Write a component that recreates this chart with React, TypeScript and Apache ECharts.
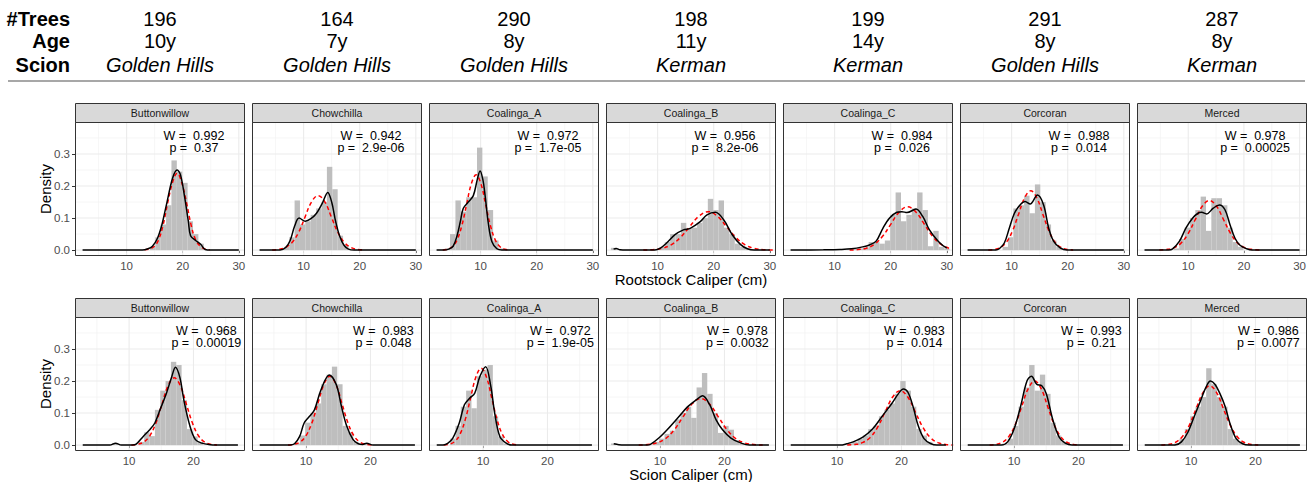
import React, { useEffect, useRef } from 'react';
import * as echarts from 'echarts';

// ---------- header table ----------
const sites = ['Buttonwillow', 'Chowchilla', 'Coalinga_A', 'Coalinga_B', 'Coalinga_C', 'Corcoran', 'Merced'];
const treeCounts = ['196', '164', '290', '198', '199', '291', '287'];
const ages = ['10y', '7y', '8y', '11y', '14y', '8y', '8y'];
const scions = ['Golden Hills', 'Golden Hills', 'Golden Hills', 'Kerman', 'Kerman', 'Golden Hills', 'Kerman'];

// ---------- Shapiro-Wilk labels ----------
const rootW = ['0.992', '0.942', '0.972', '0.956', '0.984', '0.988', '0.978'];
const rootP = ['0.37', '2.9e-06', '1.7e-05', '8.2e-06', '0.026', '0.014', '0.00025'];
const scionW = ['0.968', '0.983', '0.972', '0.978', '0.983', '0.993', '0.986'];
const scionP = ['0.00019', '0.048', '1.9e-05', '0.0032', '0.014', '0.21', '0.0077'];

// ---------- histogram bins (30 bins per row) ----------
const rootBinStart = 2.15;
const rootBinWidth = 0.96;
const scionBinStart = 2.8;
const scionBinWidth = 0.83;

const r1ButtonwillowHist = [0,0,0,0,0,0,0,0,0,0, 0,0,0,0.01,0.04,0.08,0.14,0.28,0.245,0.21, 0.09,0.05,0.02,0,0,0,0,0,0,0];
const r1ChowchillaHist = [0,0,0,0,0,0.01,0.04,0.155,0.08,0.09, 0.11,0.13,0.15,0.26,0.19,0.045,0.015,0,0,0, 0,0,0,0,0,0,0,0,0,0];
const r1CoalingaAHist = [0,0,0.005,0.05,0.155,0.12,0.165,0.165,0.32,0.23, 0.125,0.03,0.005,0,0,0,0,0,0,0, 0,0,0,0,0,0,0,0,0,0];
const r1CoalingaBHist = [0.007,0,0,0,0,0,0,0,0,0.01, 0.025,0.05,0.05,0.085,0.068,0.07,0.085,0.1,0.16,0.125, 0.155,0.07,0.05,0.02,0.01,0.005,0,0,0,0];
const r1CoalingaCHist = [0,0,0,0,0,0,0,0,0,0, 0,0.003,0.003,0.005,0.008,0.025,0.025,0.02,0.03,0.11, 0.18,0.09,0.11,0.13,0.18,0.125,0.012,0.06,0.01,0.005];
const r1CorcoranHist = [0,0,0,0,0,0,0,0.01,0.04,0.13, 0.14,0.17,0.115,0.205,0.15,0.08,0.03,0.01,0,0, 0,0,0,0,0,0,0,0,0,0];
const r1MercedHist = [0,0,0,0,0,0,0.005,0.035,0.07,0.1, 0.125,0.167,0.06,0.162,0.162,0.14,0.07,0.025,0.01,0, 0,0,0,0,0,0,0,0,0,0];

const r2ButtonwillowHist = [0,0,0,0,0,0,0.006,0,0,0, 0,0.01,0.04,0.028,0.11,0.17,0.2,0.26,0.25,0.14, 0.05,0.027,0.01,0,0,0,0,0,0,0];
const r2ChowchillaHist = [0,0,0,0,0,0,0,0.005,0.03,0.07, 0.1,0.13,0.19,0.22,0.245,0.19,0.06,0.04,0.01,0, 0.006,0,0,0,0,0,0,0,0,0];
const r2CoalingaAHist = [0,0,0,0.02,0.06,0.12,0.17,0.115,0.215,0.235, 0.25,0.09,0.027,0.005,0,0,0,0,0,0, 0,0,0,0,0,0,0,0,0,0];
const r2CoalingaBHist = [0.005,0,0,0,0,0,0,0,0.01,0.02, 0.035,0.045,0.08,0.1,0.12,0.085,0.18,0.225,0.16,0.1, 0.038,0.06,0.048,0.015,0.005,0,0,0,0,0];
const r2CoalingaCHist = [0,0,0,0,0,0,0,0,0,0, 0,0.005,0.01,0.02,0.03,0.05,0.06,0.09,0.11,0.13, 0.16,0.2,0.17,0.12,0.05,0.03,0.01,0,0,0];
const r2CorcoranHist = [0,0,0,0,0,0,0,0.005,0.02,0.06, 0.12,0.18,0.25,0.17,0.22,0.16,0.07,0.03,0.01,0, 0,0,0,0,0,0,0,0,0,0];
const r2MercedHist = [0,0,0,0,0,0,0.005,0.02,0.05,0.09, 0.12,0.15,0.24,0.19,0.15,0.12,0.05,0.02,0.01,0, 0,0,0,0,0,0,0,0,0,0];

// ---------- kernel density curves (black) ----------
const r1ButtonwillowDens = [[2.15,0],[12.8,0],[13.8,0.004],[14.6,0.012],[15.5,0.037],[16.3,0.08],[17.2,0.15],[18.2,0.225],[19.0,0.25],[19.6,0.235],[20.3,0.17],[21.0,0.09],[21.4,0.045],[22.3,0.03],[23.2,0.018],[24.0,0.002],[25,0],[30,0]];
const r1ChowchillaDens = [[2.15,0],[5.8,0],[6.8,0.008],[7.6,0.03],[8.4,0.075],[9.2,0.1],[10.3,0.09],[11.3,0.098],[12.3,0.115],[13.3,0.145],[14.3,0.18],[15.0,0.15],[15.7,0.09],[16.4,0.045],[17.2,0.015],[18.0,0.003],[19,0],[30,0]];
const r1CoalingaADens = [[2.15,0],[3.5,0],[4.3,0.003],[5.1,0.012],[5.8,0.045],[6.4,0.09],[6.9,0.13],[7.8,0.15],[8.7,0.17],[9.4,0.22],[9.9,0.247],[10.4,0.22],[10.8,0.17],[11.4,0.08],[12.0,0.027],[12.9,0.004],[13.8,0],[30,0]];
const r1CoalingaBDens = [[2.15,0.003],[2.6,0.005],[3.3,0.001],[4.5,0],[9.5,0],[10.5,0.006],[11.6,0.022],[13.1,0.048],[14.6,0.063],[15.8,0.068],[17.6,0.089],[18.8,0.11],[20.3,0.118],[21.8,0.094],[23.3,0.048],[24.8,0.017],[26.0,0.004],[27.2,0],[30,0]];
const r1CoalingaCDens = [[2.15,0],[8,0.001],[11,0.002],[13,0.004],[15.0,0.01],[16.2,0.016],[17.4,0.028],[18.6,0.068],[19.8,0.1],[21.1,0.118],[22.0,0.12],[22.9,0.117],[24.5,0.128],[25.7,0.105],[26.9,0.063],[28.5,0.027],[30.0,0.006]];
const r1CorcoranDens = [[2.15,0],[7.2,0],[7.8,0.004],[8.7,0.022],[9.6,0.069],[10.5,0.115],[11.5,0.141],[12.4,0.152],[13.3,0.144],[14.6,0.172],[15.7,0.141],[16.6,0.069],[17.5,0.027],[18.7,0.006],[19.9,0],[30,0]];
const r1MercedDens = [[2.15,0],[6.5,0],[7.2,0.004],[8.4,0.027],[9.6,0.069],[10.8,0.1],[11.75,0.115],[12.4,0.118],[13.3,0.113],[14.5,0.131],[15.6,0.141],[16.6,0.126],[17.5,0.079],[18.4,0.037],[19.3,0.015],[20.5,0.004],[21.5,0],[30,0]];

const r2ButtonwillowDens = [[2.8,0],[7.0,0],[7.9,0.006],[8.8,0],[10.5,0],[11.1,0.003],[12.2,0.027],[13.2,0.048],[14.0,0.069],[14.8,0.11],[15.8,0.162],[16.6,0.212],[17.2,0.243],[17.9,0.21],[18.5,0.141],[19.4,0.063],[20.3,0.017],[21.3,0.006],[22.6,0.001],[23.5,0],[26.9,0]];
const r2ChowchillaDens = [[2.8,0],[7.5,0],[8.2,0.004],[9.0,0.027],[9.7,0.069],[10.5,0.089],[11.3,0.11],[12.3,0.172],[13.6,0.219],[14.7,0.188],[15.5,0.12],[16.25,0.063],[17.3,0.017],[18.1,0.004],[18.8,0.002],[19.4,0.006],[20.4,0],[26.9,0]];
const r2CoalingaADens = [[2.8,0],[3.8,0],[4.5,0.005],[5.3,0.022],[6.3,0.069],[7.1,0.126],[7.9,0.146],[8.7,0.162],[9.5,0.214],[10.4,0.245],[11.2,0.183],[11.8,0.1],[12.6,0.027],[13.6,0.006],[14.5,0],[26.9,0]];
const r2CoalingaBDens = [[2.8,0.004],[3.6,0.001],[4.5,0],[8.0,0],[8.5,0.002],[9.8,0.022],[11.1,0.048],[12.7,0.084],[14.3,0.12],[15.6,0.141],[16.6,0.154],[17.7,0.126],[18.7,0.079],[19.7,0.048],[21.0,0.022],[22.6,0.006],[23.9,0],[26.9,0]];
const r2CoalingaCDens = [[2.8,0],[10.5,0],[11.5,0.004],[12.5,0.01],[14.0,0.025],[15.5,0.05],[17.0,0.09],[18.5,0.13],[19.5,0.16],[20.3,0.175],[21.0,0.165],[21.8,0.12],[22.6,0.06],[23.5,0.02],[24.5,0.005],[25.5,0],[26.9,0]];
const r2CorcoranDens = [[2.8,0],[8.0,0],[9.0,0.01],[10.0,0.05],[11.0,0.12],[12.0,0.2],[12.7,0.215],[13.5,0.19],[14.3,0.185],[15.0,0.16],[16.0,0.08],[17.0,0.025],[18.0,0.005],[19.0,0],[26.9,0]];
const r2MercedDens = [[2.8,0],[7.5,0],[8.5,0.01],[9.5,0.04],[10.5,0.09],[11.5,0.14],[12.3,0.18],[13.0,0.2],[13.7,0.19],[14.5,0.16],[15.3,0.12],[16.0,0.07],[17.0,0.02],[18.0,0.004],[19.0,0],[26.9,0]];

// ---------- fitted normal curves (red dashed) ----------
const r1ButtonwillowNorm = [[13.2,0.001],[14.0,0.003],[14.9,0.011],[15.7,0.032],[16.5,0.078],[17.3,0.146],[18.2,0.212],[19.0,0.24],[19.8,0.212],[20.7,0.146],[21.5,0.078],[22.3,0.032],[23.2,0.011],[24.0,0.003],[24.8,0.001]];
const r1ChowchillaNorm = [[4.4,0.0004],[5.55,0.002],[6.7,0.0075],[7.9,0.023],[9.1,0.055],[10.25,0.103],[11.4,0.15],[12.6,0.17],[13.8,0.15],[14.95,0.103],[16.1,0.055],[17.3,0.023],[18.5,0.0075],[19.65,0.002],[20.8,0.0004]];
const r1CoalingaANorm = [[3.25,0.0005],[4.1,0.0026],[4.95,0.0103],[5.8,0.0318],[6.65,0.0763],[7.5,0.1425],[8.35,0.2074],[9.2,0.235],[10.05,0.2074],[10.9,0.1425],[11.75,0.0763],[12.6,0.0318],[13.45,0.0103],[14.3,0.0026],[15.15,0.0005]];
const r1CoalingaBNorm = [[7.45,0.0003],[9.1,0.0013],[10.75,0.0053],[12.4,0.0162],[14.05,0.039],[15.7,0.0728],[17.35,0.1059],[19.0,0.12],[20.65,0.1059],[22.3,0.0728],[23.95,0.039],[25.6,0.0162],[27.25,0.0053],[28.9,0.0013],[30.55,0.0003]];
const r1CoalingaCNorm = [[12.68,0.0003],[14.15,0.0015],[15.63,0.0059],[17.1,0.0183],[18.58,0.0438],[20.05,0.0819],[21.53,0.1191],[23.0,0.135],[24.48,0.1191],[25.95,0.0819],[27.43,0.0438],[28.9,0.0183],[30.38,0.0059]];
const r1CorcoranNorm = [[5.84,0.0004],[6.92,0.0021],[8.0,0.0081],[9.08,0.025],[10.16,0.0601],[11.24,0.1122],[12.32,0.1633],[13.4,0.185],[14.48,0.1633],[15.56,0.1122],[16.64,0.0601],[17.72,0.025],[18.8,0.0081],[19.88,0.0021],[20.96,0.0004]];
const r1MercedNorm = [[4.81,0.0003],[6.09,0.0017],[7.38,0.0068],[8.66,0.021],[9.95,0.0503],[11.23,0.094],[12.52,0.1368],[13.8,0.155],[15.09,0.1368],[16.37,0.094],[17.66,0.0503],[18.94,0.021],[20.23,0.0068],[21.51,0.0017],[22.8,0.0003]];

const r2ButtonwillowNorm = [[10.35,0.0005],[11.3,0.0023],[12.25,0.0092],[13.2,0.0284],[14.15,0.0682],[15.1,0.1274],[16.05,0.1853],[17.0,0.21],[17.95,0.1853],[18.9,0.1274],[19.85,0.0682],[20.8,0.0284],[21.75,0.0092],[22.7,0.0023],[23.65,0.0005]];
const r2ChowchillaNorm = [[7.19,0.0005],[8.12,0.0024],[9.05,0.0094],[9.98,0.0291],[10.91,0.0698],[11.84,0.1304],[12.77,0.1897],[13.7,0.215],[14.63,0.1897],[15.56,0.1304],[16.49,0.0698],[17.42,0.0291],[18.35,0.0094],[19.28,0.0024],[20.21,0.0005]];
const r2CoalingaANorm = [[3.89,0.0005],[4.72,0.0027],[5.55,0.0105],[6.38,0.0325],[7.21,0.0779],[8.04,0.1456],[8.87,0.2118],[9.7,0.24],[10.53,0.2118],[11.36,0.1456],[12.19,0.0779],[13.02,0.0325],[13.85,0.0105],[14.68,0.0027],[15.51,0.0005]];
const r2CoalingaBNorm = [[6.68,0.0003],[8.05,0.0016],[9.43,0.0064],[10.8,0.0196],[12.18,0.0471],[13.55,0.0879],[14.93,0.128],[16.3,0.145],[17.68,0.128],[19.05,0.0879],[20.43,0.0471],[21.8,0.0196],[23.18,0.0064],[24.55,0.0016],[25.93,0.0003]];
const r2CoalingaCNorm = [[11.58,0.0004],[12.75,0.0019],[13.93,0.0075],[15.1,0.023],[16.28,0.0552],[17.45,0.1031],[18.63,0.15],[19.8,0.17],[20.98,0.15],[22.15,0.1031],[23.33,0.0552],[24.5,0.023],[25.68,0.0075],[26.85,0.0019],[28.03,0.0004]];
const r2CorcoranNorm = [[6.2,0.0004],[7.2,0.0022],[8.2,0.0088],[9.2,0.0271],[10.2,0.0649],[11.2,0.1213],[12.2,0.1765],[13.2,0.2],[14.2,0.1765],[15.2,0.1213],[16.2,0.0649],[17.2,0.0271],[18.2,0.0088],[19.2,0.0022],[20.2,0.0004]];
const r2MercedNorm = [[5.38,0.0004],[6.45,0.0021],[7.53,0.0081],[8.6,0.025],[9.68,0.0601],[10.75,0.1122],[11.83,0.1633],[12.9,0.185],[13.98,0.1633],[15.05,0.1122],[16.13,0.0601],[17.2,0.025],[18.28,0.0081],[19.35,0.0021],[20.43,0.0004]];

// ---------- axes ----------
const yTickValues = [0, 0.1, 0.2, 0.3];
const yMinorValues = [0.05, 0.15, 0.25, 0.35];
const rootXTicks = [10, 20, 30];
const scionXTicks = [10, 20];
const xMinorValues = [5, 15, 25];

const FONT = '"Liberation Sans", Arial, Helvetica, sans-serif';
const NBSP = '\u00a0';

const rootHists = [r1ButtonwillowHist, r1ChowchillaHist, r1CoalingaAHist, r1CoalingaBHist, r1CoalingaCHist, r1CorcoranHist, r1MercedHist];
const scionHists = [r2ButtonwillowHist, r2ChowchillaHist, r2CoalingaAHist, r2CoalingaBHist, r2CoalingaCHist, r2CorcoranHist, r2MercedHist];
const rootDens = [r1ButtonwillowDens, r1ChowchillaDens, r1CoalingaADens, r1CoalingaBDens, r1CoalingaCDens, r1CorcoranDens, r1MercedDens];
const scionDens = [r2ButtonwillowDens, r2ChowchillaDens, r2CoalingaADens, r2CoalingaBDens, r2CoalingaCDens, r2CorcoranDens, r2MercedDens];
const rootNorms = [r1ButtonwillowNorm, r1ChowchillaNorm, r1CoalingaANorm, r1CoalingaBNorm, r1CoalingaCNorm, r1CorcoranNorm, r1MercedNorm];
const scionNorms = [r2ButtonwillowNorm, r2ChowchillaNorm, r2CoalingaANorm, r2CoalingaBNorm, r2CoalingaCNorm, r2CorcoranNorm, r2MercedNorm];

function buildOption() {
  const PANEL_LEFT0 = 75;
  const PANEL_STEP = 177;
  const PANEL_W = 170;
  const PLOT_H = 134;
  const STRIP_H = 19;
  const Y_MIN = -0.0185;
  const Y_MAX = 0.4;

  const rows = [
    { hists: rootHists, dens: rootDens, norms: rootNorms, W: rootW, P: rootP, binStart: rootBinStart, binWidth: rootBinWidth,
      xMin: 0.8, xMax: 31.1, ticks: rootXTicks, stripTop: 103, plotTop: 122, title: 'Rootstock Caliper (cm)', titleY: 279.5 },
    { hists: scionHists, dens: scionDens, norms: scionNorms, W: scionW, P: scionP, binStart: scionBinStart, binWidth: scionBinWidth,
      xMin: 1.6, xMax: 28.0, ticks: scionXTicks, stripTop: 298, plotTop: 317, title: 'Scion Caliper (cm)', titleY: 474.5 },
  ];

  const grid: any[] = [];
  const xAxis: any[] = [];
  const yAxis: any[] = [];
  const series: any[] = [];
  const graphic: any[] = [];

  rows.forEach((row, r) => {
    for (let c = 0; c < 7; c++) {
      const idx = r * 7 + c;
      const left = PANEL_LEFT0 + c * PANEL_STEP;
      grid.push({ left, top: row.plotTop, width: PANEL_W, height: PLOT_H, containLabel: false });
      xAxis.push({
        type: 'value', gridIndex: idx, min: row.xMin, max: row.xMax,
        axisLine: { show: false },
        axisTick: { show: true, customValues: row.ticks, length: 3, lineStyle: { color: '#333333', width: 1 } },
        axisLabel: { show: true, customValues: row.ticks, color: '#4d4d4d', fontSize: 11.5, fontFamily: FONT, margin: 4 },
        splitLine: { show: false },
      });
      yAxis.push({
        type: 'value', gridIndex: idx, min: Y_MIN, max: Y_MAX,
        axisLine: { show: false },
        axisTick: { show: c === 0, customValues: yTickValues, length: 3, lineStyle: { color: '#333333', width: 1 } },
        axisLabel: {
          show: c === 0, customValues: yTickValues, color: '#4d4d4d', fontSize: 11.5, fontFamily: FONT, margin: 5,
          formatter: (v: number) => v.toFixed(1),
        },
        splitLine: { show: false },
      });

      // panel grid lines
      const xMajor = row.ticks;
      series.push({
        type: 'custom', xAxisIndex: idx, yAxisIndex: idx, z: 1, silent: true,
        data: [[xMajor[0], 0]],
        renderItem: (params: any, api: any) => {
          const cs = params.coordSys;
          const children: any[] = [];
          const vLine = (v: number, minor: boolean) => {
            const p = api.coord([v, 0]);
            children.push({ type: 'line', shape: { x1: p[0], y1: cs.y, x2: p[0], y2: cs.y + cs.height },
              style: { stroke: minor ? '#f2f2f2' : '#ebebeb', lineWidth: minor ? 0.7 : 1.1 } });
          };
          const hLine = (v: number, minor: boolean) => {
            const p = api.coord([xMajor[0], v]);
            children.push({ type: 'line', shape: { x1: cs.x, y1: p[1], x2: cs.x + cs.width, y2: p[1] },
              style: { stroke: minor ? '#f2f2f2' : '#ebebeb', lineWidth: minor ? 0.7 : 1.1 } });
          };
          xMinorValues.forEach((v) => vLine(v, true));
          yMinorValues.forEach((v) => hLine(v, true));
          xMajor.forEach((v) => vLine(v, false));
          yTickValues.forEach((v) => hLine(v, false));
          return { type: 'group', children };
        },
      });

      // histogram bars
      const hist = row.hists[c];
      const histData: number[][] = [];
      hist.forEach((d, k) => {
        if (d > 0) {
          const center = row.binStart + k * row.binWidth;
          histData.push([center - row.binWidth / 2, center + row.binWidth / 2, d]);
        }
      });
      series.push({
        type: 'custom', xAxisIndex: idx, yAxisIndex: idx, z: 2, silent: true,
        dimensions: ['x0', 'x1', 'y'], encode: { x: [0, 1], y: 2 },
        data: histData,
        renderItem: (params: any, api: any) => {
          const a = api.coord([api.value(0), api.value(2)]);
          const b = api.coord([api.value(1), 0]);
          return { type: 'rect', shape: { x: a[0], y: a[1], width: b[0] - a[0], height: b[1] - a[1] },
            style: { fill: '#bebebe' } };
        },
      });

      // normal fit
      series.push({
        type: 'line', xAxisIndex: idx, yAxisIndex: idx, z: 3, silent: true,
        data: row.norms[c], showSymbol: false, symbol: 'none', smooth: 0.4,
        lineStyle: { color: '#ff0000', width: 1.5, type: [4, 3] },
      });
      // kernel density
      series.push({
        type: 'line', xAxisIndex: idx, yAxisIndex: idx, z: 4, silent: true,
        data: row.dens[c], showSymbol: false, symbol: 'none', smooth: 0.35,
        lineStyle: { color: '#000000', width: 1.5 },
      });
      // W / p annotation
      const label = `W =${NBSP} ${row.W[c]}\np =${NBSP} ${row.P[c]}`;
      series.push({
        type: 'custom', xAxisIndex: idx, yAxisIndex: idx, z: 5, silent: true,
        data: [[22, 0.339]],
        renderItem: (params: any, api: any) => {
          const p = api.coord([api.value(0), api.value(1)]);
          return { type: 'text', x: p[0], y: p[1],
            style: { text: label, textAlign: 'center', verticalAlign: 'middle', fontSize: 12.5, fontFamily: FONT,
              fill: '#000000', lineHeight: 12 } };
        },
      });

      // strip
      graphic.push({ type: 'rect', z: 100, shape: { x: left + 0.5, y: row.stripTop + 0.5, width: PANEL_W - 1, height: STRIP_H },
        style: { fill: '#d9d9d9', stroke: '#333333', lineWidth: 1 } });
      graphic.push({ type: 'text', z: 101, x: left + PANEL_W / 2, y: row.stripTop + STRIP_H / 2 + 0.5,
        style: { text: sites[c], textAlign: 'center', verticalAlign: 'middle', textVerticalAlign: 'middle',
          fontSize: 10.5, fontFamily: FONT, fill: '#1a1a1a' } });
      // panel border
      graphic.push({ type: 'rect', z: 100, shape: { x: left + 0.5, y: row.plotTop + 0.5, width: PANEL_W - 1, height: PLOT_H - 1 },
        style: { fill: 'none', stroke: '#333333', lineWidth: 1 } });
    }

    // axis titles
    graphic.push({ type: 'text', z: 101, x: 45, y: row.plotTop + PLOT_H / 2, rotation: Math.PI / 2,
      style: { text: 'Density', textAlign: 'center', verticalAlign: 'middle', textVerticalAlign: 'middle',
        fontSize: 15, fontFamily: FONT, fill: '#000000' } });
    const gridCenter = (PANEL_LEFT0 + PANEL_LEFT0 + 6 * PANEL_STEP + PANEL_W) / 2;
    graphic.push({ type: 'text', z: 101, x: gridCenter, y: row.titleY,
      style: { text: row.title, textAlign: 'center', verticalAlign: 'middle', textVerticalAlign: 'middle',
        fontSize: 15, fontFamily: FONT, fill: '#000000' } });
  });

  // header table
  const headerY = [19, 41, 65];
  const headerNames = ['#Trees', 'Age', 'Scion'];
  headerNames.forEach((name, i) => {
    graphic.push({ type: 'text', z: 101, x: 70, y: headerY[i],
      style: { text: name, textAlign: 'right', verticalAlign: 'middle', textVerticalAlign: 'middle',
        fontSize: 20, fontWeight: 'bold', fontFamily: FONT, fill: '#000000' } });
  });
  for (let c = 0; c < 7; c++) {
    const cx = 75 + c * 177 + 85;
    const vals = [treeCounts[c], ages[c], scions[c]];
    vals.forEach((v, i) => {
      graphic.push({ type: 'text', z: 101, x: cx, y: headerY[i],
        style: { text: v, textAlign: 'center', verticalAlign: 'middle', textVerticalAlign: 'middle',
          fontSize: 20, fontStyle: i === 2 ? 'italic' : 'normal', fontFamily: FONT, fill: '#000000' } });
    });
  }
  graphic.push({ type: 'line', z: 100, shape: { x1: 8, y1: 81, x2: 1305, y2: 81 },
    style: { stroke: '#8a8a8a', lineWidth: 1.5 } });

  return {
    animation: false,
    backgroundColor: '#ffffff',
    grid, xAxis, yAxis, series, graphic,
  };
}

export default function App() {
  const ref = useRef<HTMLDivElement>(null);
  useEffect(() => {
    if (!ref.current) return;
    const chart = echarts.init(ref.current, null, { renderer: 'svg' });
    chart.setOption(buildOption());
    return () => chart.dispose();
  }, []);
  return (
    <div
      ref={ref}
      style={{ position: 'fixed', left: 0, top: 0, width: 1309, height: 482, background: '#ffffff' }}
    />
  );
}
